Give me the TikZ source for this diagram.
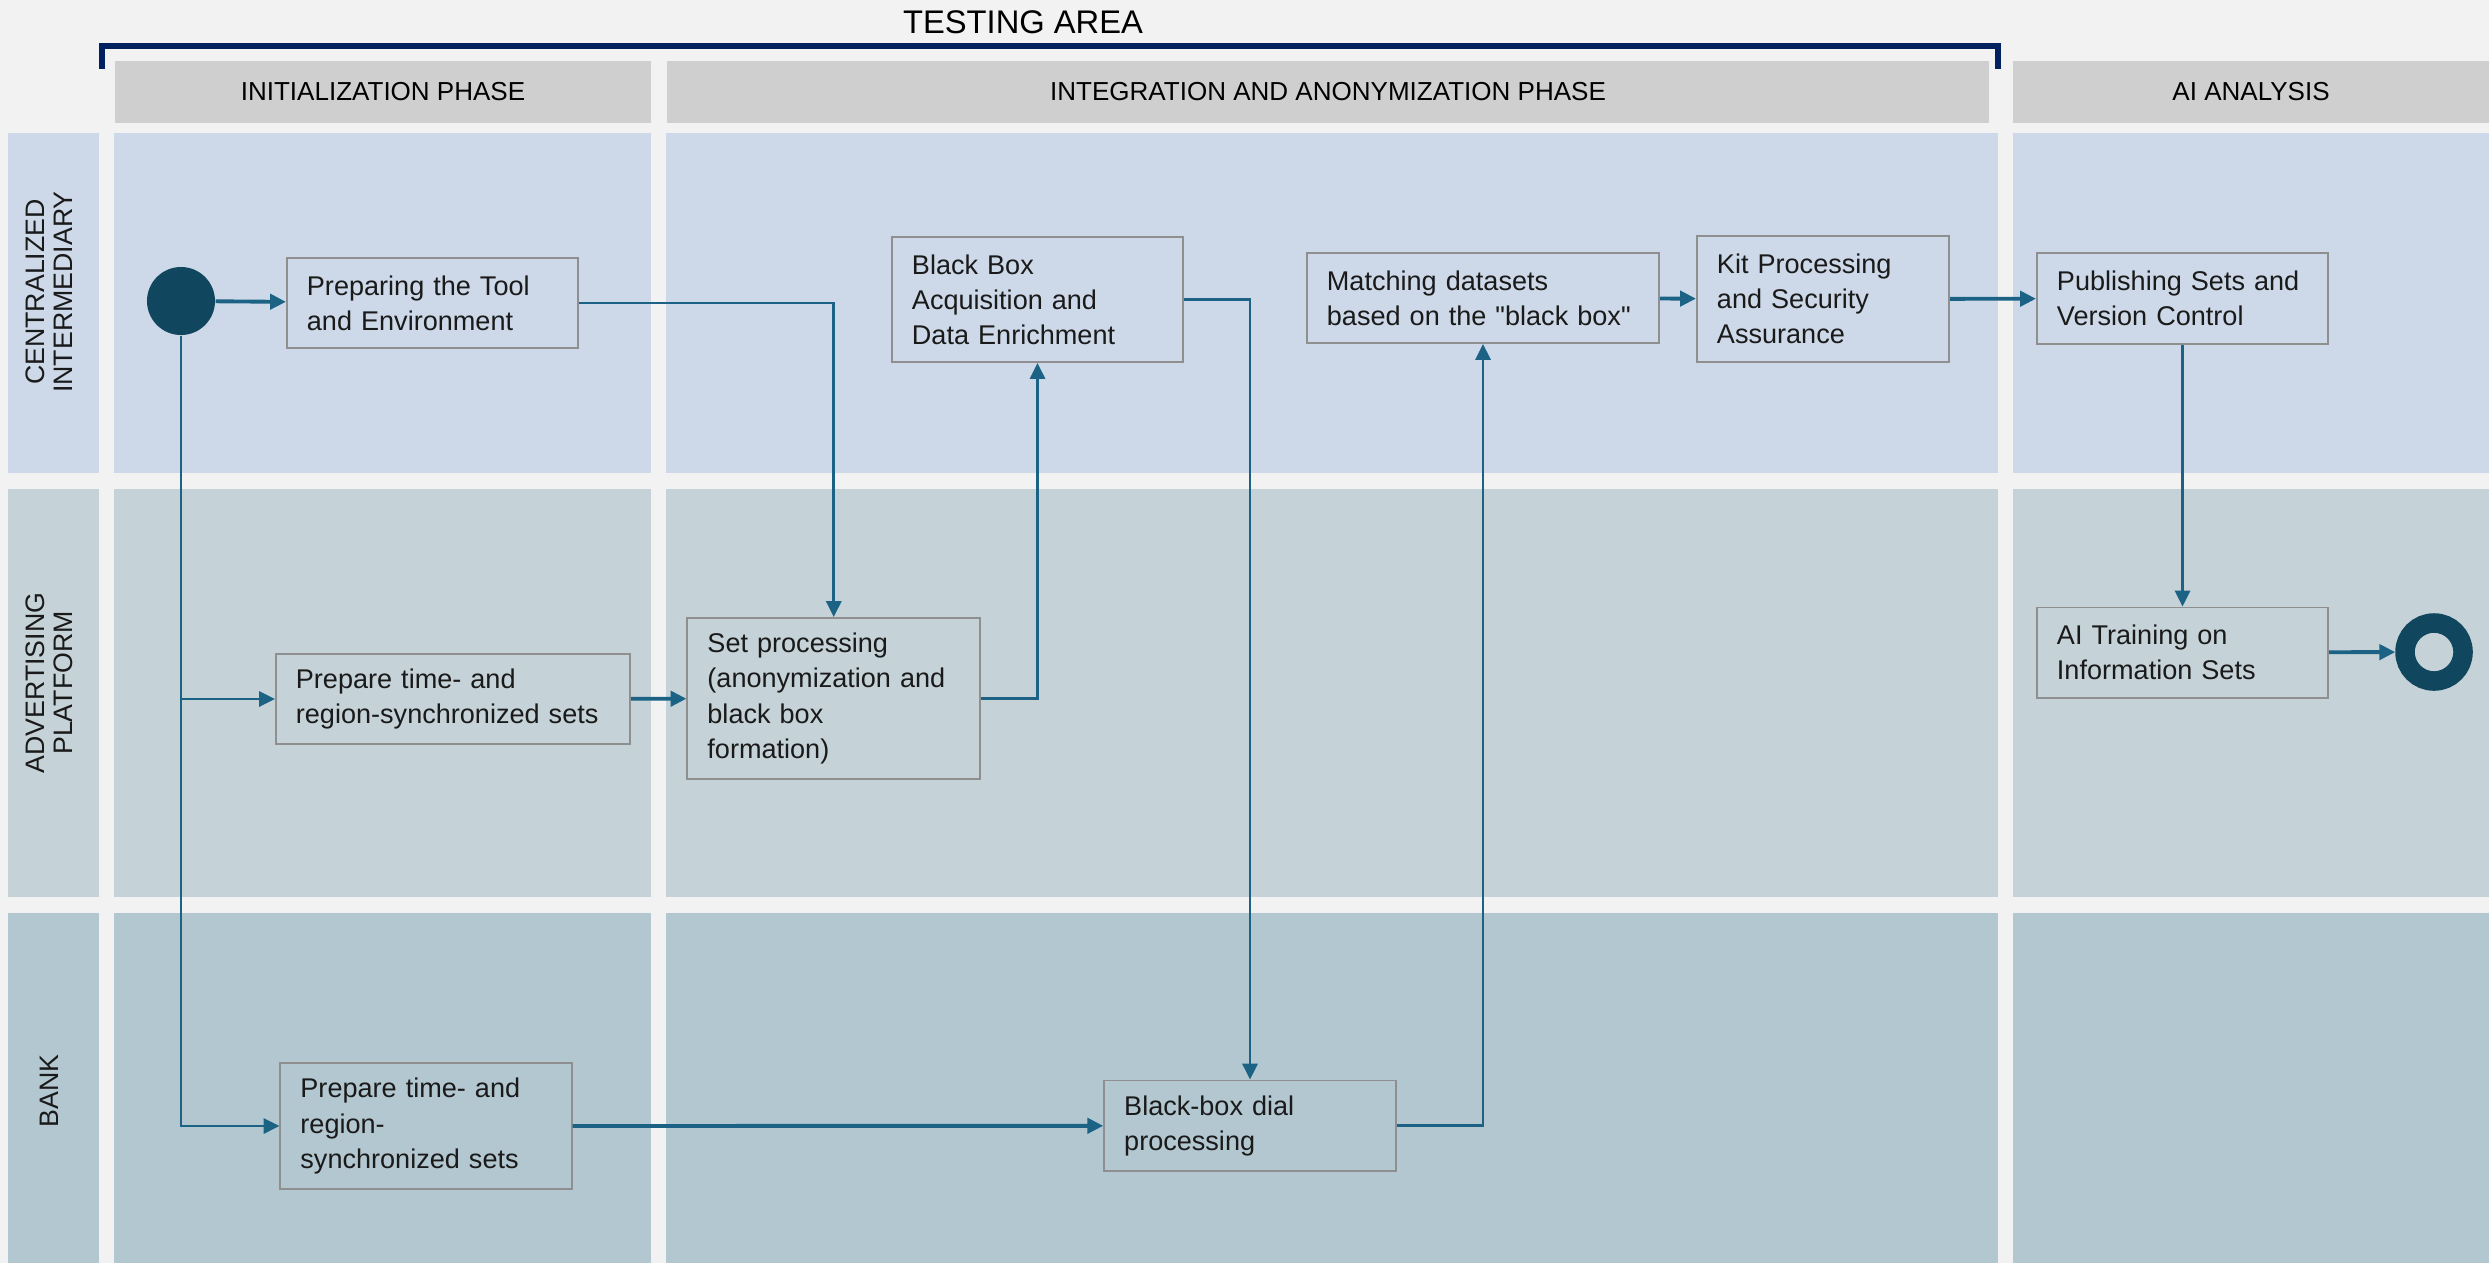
\documentclass[tikz,border=0pt]{standalone}
\usepackage{fontspec}
\setmainfont{Liberation Sans}
\usetikzlibrary{arrows.meta}

\definecolor{pagebg}{HTML}{F2F2F2}
\definecolor{headgrey}{HTML}{CFCFCF}
\definecolor{laneA}{HTML}{CDD9E8}
\definecolor{laneB}{HTML}{C5D2D7}
\definecolor{laneC}{HTML}{B3C7D1}
\definecolor{flow}{HTML}{1B6285}
\definecolor{dot}{HTML}{10475F}
\definecolor{navy}{HTML}{002060}
\definecolor{boxline}{HTML}{8F8F8F}
\definecolor{ink}{HTML}{1A1A1A}

\begin{document}
\begin{tikzpicture}[x=0.01cm, y=-0.01cm,
  procbox/.style={draw=boxline, line width=0.55pt, rectangle, align=left,
    inner xsep=0.2cm, inner ysep=0pt, text=ink,
    font=\fontsize{7.7pt}{10pt}\selectfont},
  headtext/.style={font=\fontsize{7.4pt}{9pt}\selectfont, text=black},
  lanetext/.style={rotate=90, align=center, text=ink,
    font=\fontsize{7.6pt}{7.9pt}\selectfont},
  flowline/.style={draw=flow, line width=0.75pt,
    -{Triangle[length=4.5pt, width=4.3pt]}},
  flowthick/.style={draw=flow, line width=1.1pt,
    -{Triangle[length=4.5pt, width=4.3pt]}}]

% page
\fill[pagebg] (0,0) rectangle (2489,1263);
\useasboundingbox (0,0) rectangle (2489,1263);

% phase headers
\fill[headgrey] (115,61) rectangle (651,123);
\fill[headgrey] (667,61) rectangle (1989,123);
\fill[headgrey] (2013,61) rectangle (2489,123);
\node[headtext] (hinit) at (383,92) {INITIALIZATION PHASE};
\node[headtext] (hinteg) at (1328,92) {INTEGRATION AND ANONYMIZATION PHASE};
\node[headtext] (hai) at (2251,92) {AI ANALYSIS};

% testing area bracket
\draw[navy, line width=0.06cm, line join=miter] (101.5,69) -- (101.5,45.5) -- (1998,45.5) -- (1998,69);
\node[font=\fontsize{9.3pt}{11pt}\selectfont, text=black] (title) at (1023,22.5) {TESTING AREA};

% swim lanes: centralized intermediary
\fill[laneA] (8,133) rectangle (99,473);
\fill[laneA] (114,133) rectangle (651,473);
\fill[laneA] (666,133) rectangle (1998,473);
\fill[laneA] (2013,133) rectangle (2489,473);
% advertising platform
\fill[laneB] (8,489) rectangle (99,897);
\fill[laneB] (114,489) rectangle (651,897);
\fill[laneB] (666,489) rectangle (1998,897);
\fill[laneB] (2013,489) rectangle (2489,897);
% bank
\fill[laneC] (8,913) rectangle (99,1263);
\fill[laneC] (114,913) rectangle (651,1263);
\fill[laneC] (666,913) rectangle (1998,1263);
\fill[laneC] (2013,913) rectangle (2489,1263);

\node[lanetext] (lane1) at (49,292) {CENTRALIZED\\INTERMEDIARY};
\node[lanetext] (lane2) at (49,683) {ADVERTISING\\PLATFORM};
\node[lanetext] (lane3) at (49,1091) {BANK};

% process steps
\node[procbox, text width=2.51cm, minimum height=0.90cm] (prep_tool) at (432.5,303)
  {Preparing the Tool\\and Environment};
\node[procbox, text width=2.51cm, minimum height=1.25cm] (blackbox) at (1037.5,299.5)
  {Black Box\\Acquisition and\\Data Enrichment};
\node[procbox, text width=3.12cm, minimum height=0.90cm] (matching) at (1483,298)
  {Matching datasets\\based on the \textquotedbl black box\textquotedbl};
\node[procbox, text width=2.12cm, minimum height=1.26cm] (kit) at (1823,299)
  {Kit Processing\\and Security\\Assurance};
\node[procbox, text width=2.51cm, minimum height=0.91cm] (publish) at (2182.5,298.5)
  {Publishing Sets and\\Version Control};
\node[procbox, text width=3.14cm, minimum height=0.90cm] (ap_prep) at (453,699)
  {Prepare time- and\\region-synchronized sets};
\node[procbox, text width=2.525cm, minimum height=1.61cm] (setproc) at (833.75,698.5)
  {Set processing\\(anonymization and\\black box\\formation)};
\node[procbox, text width=2.51cm, minimum height=0.90cm] (ai_train) at (2182.5,652.5)
  {AI Training on\\Information Sets};
\node[procbox, text width=2.51cm, minimum height=1.255cm] (bank_prep) at (426,1126)
  {Prepare time- and\\region-\\synchronized sets};
\node[procbox, text width=2.515cm, minimum height=0.905cm] (dial) at (1250,1125.75)
  {Black-box dial\\processing};

% start and end events
\node[circle, fill=dot, minimum size=0.68cm, inner sep=0pt] (start) at (181,301) {};
\node[circle, draw=dot, line width=0.195cm, minimum size=0.58cm, inner sep=0pt,
  outer sep=0.0975cm] (finish) at (2434,652) {};

% flow
\draw[flowthick] (start) -- (prep_tool);
\draw[flowline] (start) |- (ap_prep);
\draw[flowline] (start) |- (bank_prep);
\draw[flowline] (prep_tool) -| (setproc);
\draw[flowthick] (ap_prep) -- (setproc);
\draw[flowline] (setproc) -| (blackbox);
\draw[flowline] (blackbox) -| (dial);
\draw[flowthick] (bank_prep) -- (dial);
\draw[flowline] (dial) -| (matching);
\draw[flowthick] (matching) -- (kit);
\draw[flowthick] (kit) -- (publish);
\draw[flowline] (publish) -- (ai_train);
\draw[flowthick] (ai_train) -- (finish);
\end{tikzpicture}
\end{document}
